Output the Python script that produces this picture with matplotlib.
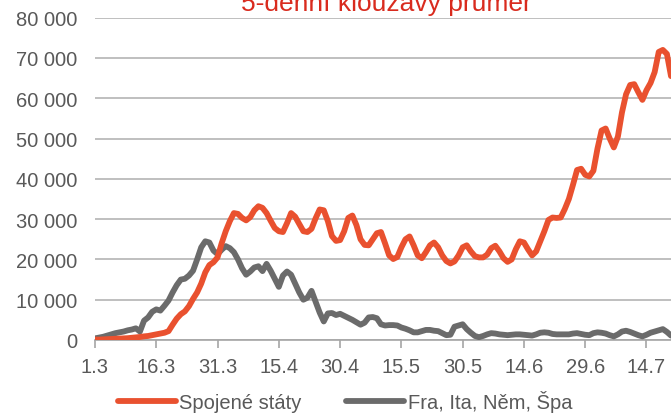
import matplotlib
matplotlib.use("Agg")
import matplotlib.pyplot as plt
from matplotlib.ticker import FuncFormatter

plt.rcParams['font.family'] = ['Liberation Sans', 'DejaVu Sans']

# 5-denni klouzavy prumer, denni hodnoty od 1.3. do 20.7.
us = [100, 100, 150, 200, 250, 300, 350, 400, 450, 550,
      650, 750, 900, 1000, 1200, 1400, 1600, 1800, 2200, 3800,
      5300, 6400, 7100, 8400, 10200, 11800, 14000, 16800, 18600, 19300,
      20500, 24000, 27000, 29500, 31500, 31300, 30300, 29700, 30500, 32200,
      33200, 32800, 31500, 29600, 27800, 27000, 26800, 29000, 31500, 30600,
      28800, 27000, 26800, 27600, 30200, 32400, 32200, 29500, 25800, 24600,
      24800, 27000, 30300, 30900, 28500, 25000, 23600, 23500, 25000, 26500,
      26800, 24000, 21000, 20100, 20600, 23000, 25000, 25700, 23500, 21000,
      20300, 21800, 23500, 24200, 23000, 21000, 19600, 19000, 19500, 21000,
      23000, 23500, 22000, 20800, 20500, 20500, 21200, 22800, 23400, 22000,
      20300, 19400, 20000, 22500, 24500, 24200, 22500, 21000, 22000, 24500,
      27000, 29800, 30400, 30300, 30400, 32500, 35000, 38500, 42200, 42500,
      41000, 40600, 42000, 47500, 52000, 52500, 50000, 47800, 50500, 56500,
      61000, 63300, 63500, 61500, 59600, 62000, 63800, 66500, 71500, 72000,
      71000, 65500]

eu4 = [400, 600, 800, 1100, 1400, 1700, 1900, 2100, 2400, 2600,
       2900, 2100, 4800, 5600, 7000, 7600, 7300, 8500, 9800, 11800,
       13600, 15000, 15200, 16000, 17200, 20000, 23000, 24500, 24200, 22200,
       21300, 22400, 23300, 22800, 21800, 20000, 17800, 16200, 17000, 18000,
       18300, 17100, 18900, 17200, 15200, 13200, 16000, 17000, 16200, 14000,
       11800, 10000, 10500, 12200, 9500, 6800, 4600, 6600, 6700, 6200,
       6500, 6000, 5500, 5000, 4400, 3800, 4300, 5600, 5700, 5400,
       3900, 3600, 3700, 3700, 3600, 3100, 2800, 2400, 1900, 1900,
       2200, 2500, 2500, 2300, 2200, 1700, 1200, 1300, 3300, 3600,
       3900, 2700, 1800, 1000, 700, 1000, 1400, 1700, 1600, 1400,
       1300, 1200, 1300, 1400, 1400, 1300, 1200, 1100, 1400, 1800,
       1900, 1800, 1500, 1400, 1400, 1400, 1400, 1600, 1700, 1500,
       1300, 1200, 1700, 1900, 1800, 1600, 1200, 900, 1400, 2100,
       2300, 2000, 1600, 1200, 900, 1300, 1800, 2100, 2400, 2700,
       2000, 1100]

tick_labels = ['1.3', '16.3', '31.3', '15.4', '30.4', '15.5', '30.5', '14.6', '29.6', '14.7']
tick_pos = [15 * i for i in range(len(tick_labels))]

red = '#E9512F'
gray = '#6B6B6B'
txt = '#595959'

fig = plt.figure(figsize=(6.71, 4.14), dpi=100)
ax = fig.add_axes([95 / 671, 1 - 341 / 414, 576 / 671, (341 - 18.7) / 414])

x = list(range(len(us)))
ax.plot(x, us, color=red, lw=4.2, solid_joinstyle='round', solid_capstyle='round',
        label='Spojené státy', zorder=3)
ax.plot(x, eu4, color=gray, lw=4.2, solid_joinstyle='round', solid_capstyle='round',
        label='Fra, Ita, Něm, Špa', zorder=2)

ax.set_xlim(0, len(us) - 1)
ax.set_ylim(0, 80000)
ax.set_yticks(range(0, 80001, 10000))
ax.yaxis.set_major_formatter(FuncFormatter(lambda v, p: f'{int(v):,}'.replace(',', ' ')))
ax.set_xticks(tick_pos)
ax.set_xticklabels(tick_labels)

ax.grid(axis='y', color='#b4b4b4', lw=1.2)
ax.set_axisbelow(True)
for s in ['top', 'right', 'left']:
    ax.spines[s].set_visible(False)
ax.spines['bottom'].set_color('#a6a6a6')
ax.spines['bottom'].set_linewidth(1.2)
ax.spines['bottom'].set_zorder(1)
ax.tick_params(axis='y', length=0, pad=13, labelsize=14.5, labelcolor=txt)
ax.tick_params(axis='x', length=6, width=1.2, color='#a6a6a6', pad=6,
               labelsize=14.5, labelcolor=txt)

fig.text(386 / 671, 1 - 10.5 / 414, '5-denní klouzavý průměr', color='#D92B1E',
         fontsize=19, ha='center', va='baseline')

fig.legend(loc='center', bbox_to_anchor=(345 / 671, 1 - 402 / 414), ncol=2,
           frameon=False, fontsize=14.5, labelcolor=txt, handlelength=2.9,
           handletextpad=0.15, columnspacing=2.2)

fig.savefig('out.png', dpi=100)
